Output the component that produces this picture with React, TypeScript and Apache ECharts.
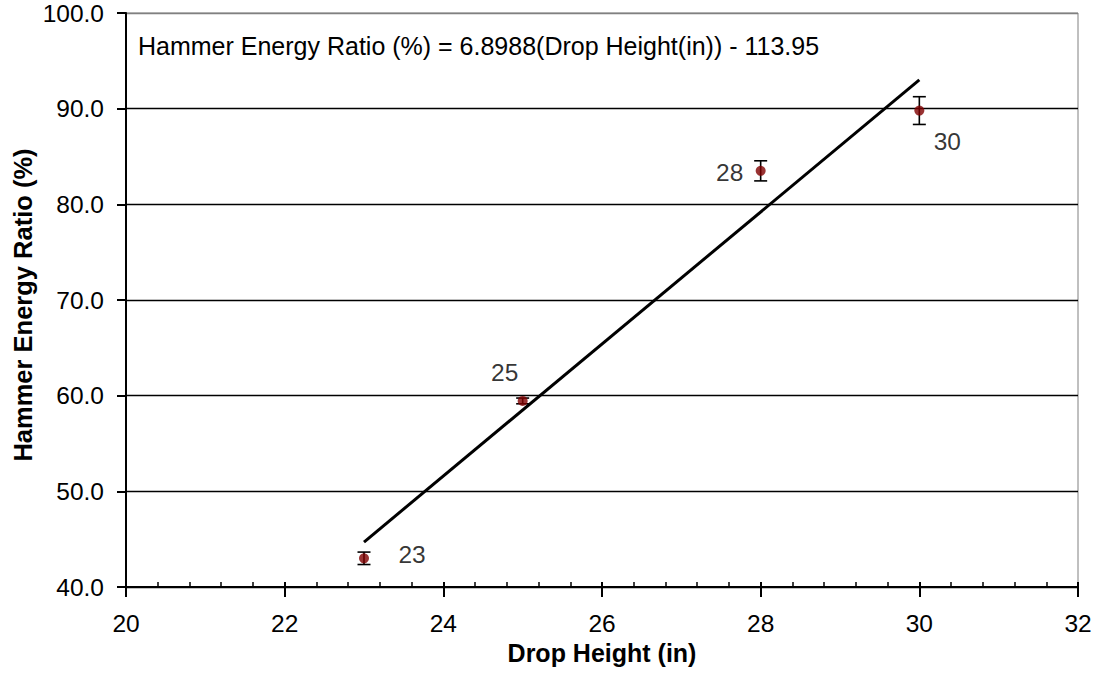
import React, { useEffect, useRef } from "react";
import * as echarts from "echarts";

const dropHeights = [23, 25, 28, 30];
const energyRatios = [43.0, 59.45, 83.5, 89.8];
const errorHalf = [0.65, 0.3, 1.05, 1.45];
const labelOffsets: [number, number][] = [
  [48, -4],
  [-18, -28],
  [-31, 2],
  [28, 31],
];
const trendX = [23, 30];
const trendY = [44.7, 93.0];
const equationText = "Hammer Energy Ratio (%) = 6.8988(Drop Height(in)) - 113.95";
const xTitle = "Drop Height (in)";
const yTitle = "Hammer Energy Ratio (%)";

const FONT = "'Liberation Sans', Arial, Helvetica, sans-serif";
const TICK_FS = 24.5;

export default function App() {
  const ref = useRef<HTMLDivElement>(null);
  useEffect(() => {
    if (!ref.current) return;
    const chart = echarts.init(ref.current, null, { renderer: "svg" });
    const grid = { left: 126, right: 20, top: 13, bottom: 96, show: true, borderColor: "#808080", borderWidth: 1 };
    const option: any = {
      animation: false,
      backgroundColor: "#ffffff",
      grid,
      xAxis: [
        {
          type: "value",
          position: "bottom",
          min: 20,
          max: 32,
          interval: 2,
          name: xTitle,
          nameLocation: "middle",
          nameGap: 47,
          nameTextStyle: { fontFamily: FONT, fontSize: 25, fontWeight: "bold", color: "#000" },
          axisLine: { show: true, lineStyle: { color: "#000", width: 2 } },
          axisTick: { show: true, inside: false, length: 10, lineStyle: { color: "#000", width: 2 } },
          axisLabel: { margin: 24, fontFamily: FONT, fontSize: TICK_FS, color: "#000" },
          splitLine: { show: false },
        },
        {
          type: "value",
          position: "bottom",
          min: 20,
          max: 32,
          interval: 2,
          axisLine: { show: false },
          axisTick: { show: true, inside: true, length: 5, lineStyle: { color: "#000", width: 2 } },
          minorTick: { show: true, splitNumber: 5, length: 5, lineStyle: { color: "#000", width: 1.5 } },
          axisLabel: { show: false },
          splitLine: { show: false },
        },
      ],
      yAxis: {
        type: "value",
        min: 40,
        max: 100,
        interval: 10,
        axisLine: { show: true, lineStyle: { color: "#000", width: 2 } },
        axisTick: { show: true, inside: false, length: 9, lineStyle: { color: "#000", width: 2 } },
        axisLabel: {
          margin: 22,
          fontFamily: FONT,
          fontSize: TICK_FS,
          color: "#000",
          formatter: (v: number) => v.toFixed(1),
        },
        splitLine: {
          show: true,
          lineStyle: { color: ["#000", "#000", "#000", "#000", "#000", "#000", "#808080"], width: 1.4 },
        },
      },
      graphic: [
        {
          type: "text",
          left: 138,
          top: 33,
          style: { text: equationText, fontFamily: FONT, fontSize: 25, fill: "#000" },
        },
        {
          type: "text",
          x: 23,
          y: 305,
          rotation: Math.PI / 2,
          style: {
            text: yTitle,
            fontFamily: FONT,
            fontSize: 25.5,
            fontWeight: "bold",
            fill: "#000",
            align: "center",
            verticalAlign: "middle",
          },
        },
      ],
      series: [
        {
          type: "line",
          data: trendX.map((x, i) => [x, trendY[i]]),
          symbol: "none",
          lineStyle: { color: "#000", width: 3 },
          z: 3,
        },
        {
          type: "custom",
          data: dropHeights.map((x, i) => [x, energyRatios[i] - errorHalf[i], energyRatios[i] + errorHalf[i]]),
          encode: { x: 0, y: [1, 2] },
          renderItem: (_params: any, api: any) => {
            const x = api.value(0);
            const lo = api.coord([x, api.value(1)]);
            const hi = api.coord([x, api.value(2)]);
            const w = 6.5;
            const st = { stroke: "#000", lineWidth: 1.6 };
            return {
              type: "group",
              children: [
                { type: "line", shape: { x1: lo[0], y1: lo[1], x2: hi[0], y2: hi[1] }, style: st },
                { type: "line", shape: { x1: lo[0] - w, y1: lo[1], x2: lo[0] + w, y2: lo[1] }, style: st },
                { type: "line", shape: { x1: hi[0] - w, y1: hi[1], x2: hi[0] + w, y2: hi[1] }, style: st },
              ],
            };
          },
          z: 4,
        },
        {
          type: "scatter",
          data: dropHeights.map((x, i) => ({
            value: [x, energyRatios[i]],
            label: { offset: labelOffsets[i] },
          })),
          symbol: "circle",
          symbolSize: 10,
          itemStyle: { color: "#800000" },
          label: {
            show: true,
            position: "inside",
            formatter: (p: any) => String(p.value[0]),
            fontFamily: FONT,
            fontSize: TICK_FS,
            color: "#000",
            textBorderWidth: 0,
            textBorderColor: "transparent",
          },
          z: 5,
        },
      ],
    };
    chart.setOption(option);
    return () => chart.dispose();
  }, []);
  return (
    <div
      ref={ref}
      style={{ position: "absolute", left: 0, top: 0, width: 1098, height: 683 }}
    />
  );
}
